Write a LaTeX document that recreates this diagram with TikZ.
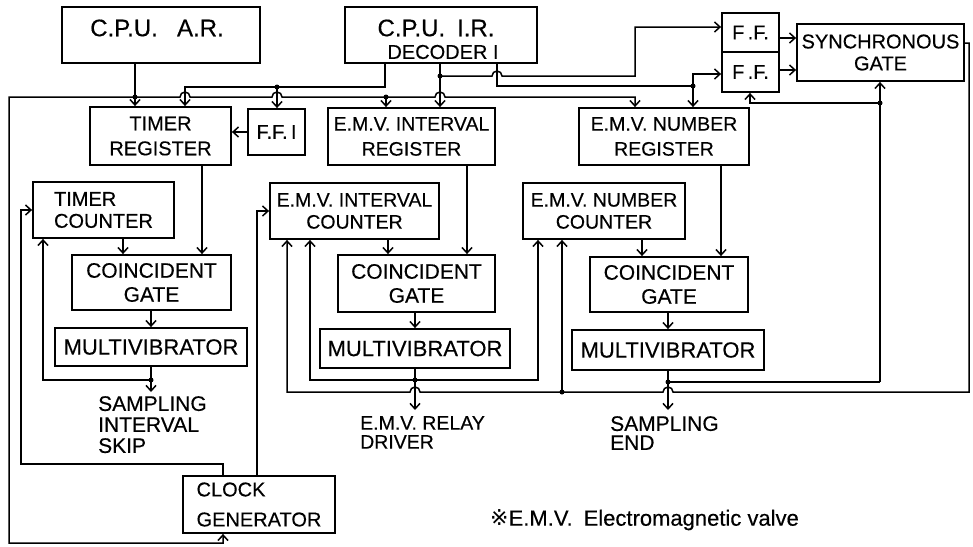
\documentclass[tikz,border=0pt]{standalone}
\usepackage{fontspec}
\setmainfont{Liberation Sans}[FakeBold=0.35]
\newfontfamily\symfont{DejaVu Sans}
\usetikzlibrary{arrows.meta}
\newcommand\myfs[2]{\fontsize{#1}{#2}\selectfont}
\begin{document}
\begin{tikzpicture}[x=1pt,y=-1pt,
 blk/.style={draw,line width=1.8pt,inner sep=0pt,align=center,font=\myfs{20}{24}},
 wire/.style={line width=1.5pt},
 arr/.style={wire,-{Straight Barb[length=5.5pt,width=10pt]}},
 arrb/.style={wire,{Straight Barb[length=5.5pt,width=10pt]}-{Straight Barb[length=5.5pt,width=10pt]}},
 jdot/.style={circle,fill,inner sep=0pt,minimum size=5pt},
 lbl/.style={align=left,inner sep=0pt,anchor=north west}]
\useasboundingbox (0,0) rectangle (973,546);
\fill[white] (0,0) rectangle (973,546);

% ---------- boxes ----------
\node[blk,minimum width=198pt,minimum height=56pt] (cpuar) at (161,35) {};
\node[font=\myfs{24}{28},inner sep=0pt] (cpuartxt) at (157,28) {C.P.U.\hspace{0.8em}A.R.};
\node[blk,minimum width=192pt,minimum height=56pt] (cpuir) at (441,35) {};
\node[font=\myfs{24}{28},inner sep=0pt] (cpuirtxt) at (436,28) {C.P.U.\hspace{0.5em}I.R.};
\node[font=\myfs{20}{22},inner sep=0pt] (dectxt) at (443,52) {DECODER I};
\node[blk,minimum width=57pt,minimum height=39pt,font=\myfs{20}{22}] (fftop) at (750.5,32.5) {F\,.F.};
\node[blk,minimum width=57pt,minimum height=40pt,font=\myfs{20}{22}] (ffbot) at (750.5,72) {F\,.F.};
\node[blk,minimum width=167pt,minimum height=57pt,font=\myfs{20}{22}] (sync) at (880.5,52.5) {SYNCHRONOUS\\GATE};
\node[blk,minimum width=141pt,minimum height=58pt,font=\myfs{20}{25}] (timerreg) at (160.5,136) {TIMER\\REGISTER};
\node[blk,minimum width=57pt,minimum height=46pt] (ffi) at (276.5,132) {F.F.\,I};
\node[blk,minimum width=167pt,minimum height=57pt,font=\myfs{19.5}{25}] (emvireg) at (411.5,136.5) {E.M.V. INTERVAL\\REGISTER};
\node[blk,minimum width=170pt,minimum height=57pt,font=\myfs{19.5}{25}] (emvnreg) at (664,136.5) {E.M.V. NUMBER\\REGISTER};
\node[blk,minimum width=141pt,minimum height=56pt,align=left,font=\myfs{20}{22}] (timercnt) at (103.5,210) {TIMER\\COUNTER};
\node[blk,minimum width=169pt,minimum height=56pt,font=\myfs{19.5}{22}] (emvicnt) at (354.5,211) {E.M.V. INTERVAL\\COUNTER};
\node[blk,minimum width=162pt,minimum height=56pt,font=\myfs{19.5}{22}] (emvncnt) at (604,211) {E.M.V. NUMBER\\COUNTER};
\node[blk,minimum width=159pt,minimum height=55pt,font=\myfs{21}{24}] (gate1) at (151.5,282.5) {COINCIDENT\\GATE};
\node[blk,minimum width=157pt,minimum height=57pt,font=\myfs{21}{24}] (gate2) at (416.5,283.5) {COINCIDENT\\GATE};
\node[blk,minimum width=158pt,minimum height=55pt,font=\myfs{21}{24}] (gate3) at (669,284.5) {COINCIDENT\\GATE};
\node[blk,minimum width=192pt,minimum height=38pt,font=\myfs{22}{24}] (mv1) at (151,347) {MULTIVIBRATOR};
\node[blk,minimum width=190pt,minimum height=39pt,font=\myfs{22}{24}] (mv2) at (415,348.5) {MULTIVIBRATOR};
\node[blk,minimum width=192pt,minimum height=40pt,font=\myfs{22}{24}] (mv3) at (668,350) {MULTIVIBRATOR};
\node[blk,minimum width=152pt,minimum height=57pt,align=left,font=\myfs{20}{30}] (clock) at (259,504.5) {CLOCK\\GENERATOR};

% ---------- labels ----------
\node[lbl,font=\myfs{21}{21}] (skip) at (98,396) {SAMPLING\\INTERVAL\\SKIP};
\node[lbl,font=\myfs{19.5}{19}] (relay) at (360,416) {E.M.V. RELAY\\DRIVER};
\node[lbl,font=\myfs{21}{19}] (send) at (610,416) {SAMPLING\\END};
\node[anchor=west,inner sep=0pt,font=\myfs{22}{24}] (note) at (490,520) {{\symfont ※}E.M.V.\hspace{0.5em}Electromagnetic valve};

% ---------- coordinates ----------
\coordinate (j1) at (135,97);
\coordinate (j2) at (386,97);
\coordinate (b1) at (635,97);
\coordinate (b2) at (9,97);
\coordinate (b3) at (9,543);
\coordinate (u1) at (385,87);
\coordinate (u2) at (185,87);
\coordinate (u3) at (277,87);
\coordinate (v1) at (440,76);
\coordinate (v2) at (635,27);
\coordinate (w1) at (497,86);
\coordinate (w2) at (693,86);
\coordinate (w3) at (693,74);
\coordinate (s1) at (880,382);
\coordinate (s2) at (880,103);
\coordinate (s3) at (750,103);
\coordinate (r1) at (969,43);
\coordinate (r2) at (969,392);
\coordinate (r3) at (562,392);
\coordinate (r4) at (287,392);
\coordinate (q0) at (415,380);
\coordinate (q1) at (310,380);
\coordinate (q2) at (538,380);
\coordinate (e1) at (415,410);
\coordinate (m3j) at (668,382);
\coordinate (e2) at (151,392);
\coordinate (t1) at (151,380);
\coordinate (t2) at (43,380);
\coordinate (k1) at (223,464);
\coordinate (k2) at (21,464);
\coordinate (k3) at (257,464);
\coordinate (g1) at (123,0);
\coordinate (g2) at (202,0);
\coordinate (g3) at (388,0);
\coordinate (g4) at (467,0);
\coordinate (g5) at (642,0);
\coordinate (g6) at (721,0);

% ---------- top wiring ----------
\draw[arr] (cpuar.south -| j1) -- (timerreg.north -| j1);
\draw[arrb] (emvnreg.north -| b1) -- (b1) -- (445,97) arc[start angle=0,end angle=180,radius=5pt]
  -- (282,97) arc[start angle=0,end angle=180,radius=5pt]
  -- (190,97) arc[start angle=0,end angle=180,radius=5pt]
  -- (b2) -- (b3) -- (b3 -| k1) -- (clock.south -| k1);
\draw[arr] (j2) -- (emvireg.north -| j2);
\draw[arr] (cpuir.south -| u1) -- (u1) -- (u2) -- (timerreg.north -| u2);
\draw[arr] (u3) -- (ffi.north -| u3);
\draw[arr] (cpuir.south -| v1) -- (emvireg.north -| v1);
\draw[arr] (v1) -- (492,76) arc[start angle=180,end angle=0,radius=5pt] -- (v1 -| v2) -- (v2) -- (fftop.west |- v2);
\draw[wire] (cpuir.south -| w1) -- (w1) -- (w2);
\draw[arr] (w2) -- (emvnreg.north -| w2);
\draw[arr] (w2) -- (w3) -- (ffbot.west |- w3);
\draw[arr] ([yshift=-5.5pt]fftop.east) -- ([yshift=-5.5pt]fftop.east -| sync.west);
\draw[arr] ([yshift=2pt]ffbot.east) -- ([yshift=2pt]ffbot.east -| sync.west);
\draw[arr] (ffi.west) -- (ffi.west -| timerreg.east);

% ---------- sync gate feedback ----------
\draw[arr] (s1) -- (sync.south -| s1);
\draw[arr] (s2) -- (s3) -- (ffbot.south -| s3);
\draw[arr] ([yshift=9.5pt]sync.east) -- ([yshift=9.5pt]sync.east -| r1) -- (r2)
  -- (673,392) arc[start angle=0,end angle=180,radius=5pt]
  -- (420,392) arc[start angle=0,end angle=180,radius=5pt]
  -- (r4) -- (emvicnt.south -| r4);
\draw[arr] (r3) -- (emvncnt.south -| r3);

% ---------- multivibrator outputs ----------
\draw[arr] (mv2.south) -- (e1);
\draw[arrb] (emvicnt.south -| q1) -- (q1) -- (q2) -- (emvncnt.south -| q2);
\draw[arr] (mv3.south) -- (mv3.south |- e1);
\draw[wire] (m3j) -- (s1);
\draw[arr] (mv1.south) -- (e2);
\draw[arr] (t1) -- (t2) -- (timercnt.south -| t2);

% ---------- clock ----------
\draw[arr] (clock.north -| k1) -- (k1) -- (k2) -- (k2 |- timercnt.west) -- (timercnt.west);
\draw[arr] (clock.north -| k3) -- (k3 |- emvicnt.west) -- (emvicnt.west);

% ---------- into gates ----------
\draw[arr] (timercnt.south -| g1) -- (gate1.north -| g1);
\draw[arr] (timerreg.south -| g2) -- (gate1.north -| g2);
\draw[arr] (mv1.north |- gate1.south) -- (mv1.north);
\draw[arr] (emvicnt.south -| g3) -- (gate2.north -| g3);
\draw[arr] (emvireg.south -| g4) -- (gate2.north -| g4);
\draw[arr] (mv2.north |- gate2.south) -- (mv2.north);
\draw[arr] (emvncnt.south -| g5) -- (gate3.north -| g5);
\draw[arr] (emvnreg.south -| g6) -- (gate3.north -| g6);
\draw[arr] (mv3.north |- gate3.south) -- (mv3.north);

% ---------- junction dots ----------
\node[jdot] (dj1) at (j1) {};
\node[jdot] (dj2) at (j2) {};
\node[jdot] (du3) at (u3) {};
\node[jdot] (dv1) at (v1) {};
\node[jdot] (dw2) at (w2) {};
\node[jdot] (ds2) at (s2) {};
\node[jdot] (dr3) at (r3) {};
\node[jdot] (dq0) at (q0) {};
\node[jdot] (dm3) at (m3j) {};
\node[jdot] (dt1) at (t1) {};
\end{tikzpicture}
\end{document}
